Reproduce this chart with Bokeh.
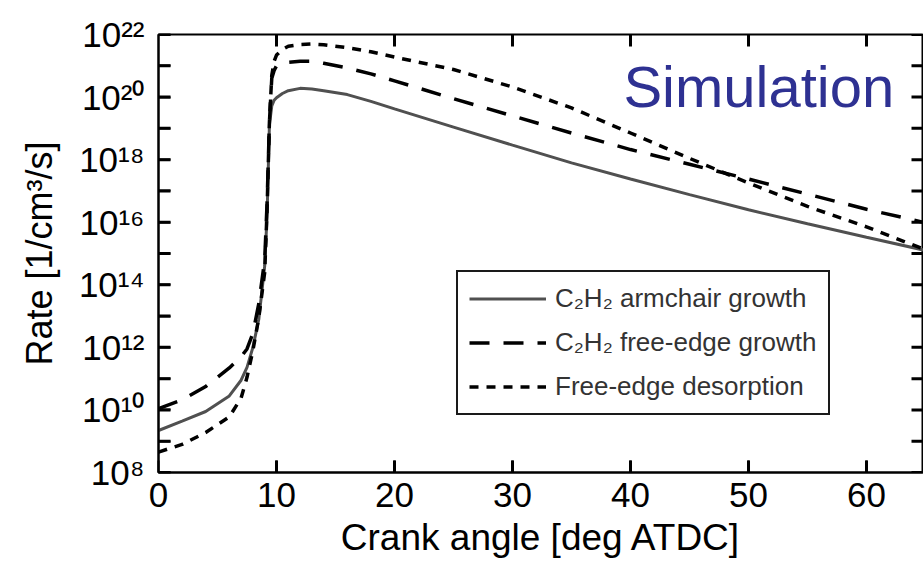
from bokeh.plotting import figure
from bokeh.models import (Range1d, FixedTicker, CustomJSTickFormatter,
                          Legend, LegendItem, Label)
from bokeh.embed import file_html
from bokeh.resources import INLINE

# ---------------- data ----------------
crank_angle = [0, 2, 4, 6, 7, 7.5, 8, 8.5, 9, 9.2, 9.4, 9.6, 9.8, 10, 10.5, 11, 12, 13, 14,
               16, 18, 20, 25, 30, 35, 40, 45, 50, 55, 60, 64.8]

armchair_growth = [2.2e9, 4.4e9, 8.9e9, 2.8e10, 8.9e10, 2.3e11, 1.0e12, 7.9e12, 4.0e14, 1.6e16,
                   1.3e19, 5.2e19, 7.9e19, 9.5e19, 1.3e20, 1.6e20, 1.9e20, 1.8e20, 1.6e20,
                   1.2e20, 7.3e19, 4.2e19, 1.1e19, 2.9e18, 7.9e17, 2.4e17, 7.6e16, 2.5e16,
                   8.9e15, 3.3e15, 1.3e15]

free_edge_growth = [1.1e10, 2.1e10, 5.6e10, 2.2e11, 5.0e11, 8.9e11, 2.8e12, 2.5e13, 6.3e14, 4.0e16,
                    1.6e19, 4.0e20, 7.1e20, 1.0e21, 1.2e21, 1.3e21, 1.4e21, 1.4e21, 1.2e21,
                    8.5e20, 5.5e20, 3.3e20, 8.9e19, 2.5e19, 7.1e18, 2.1e18, 7.1e17, 2.4e17,
                    7.9e16, 2.6e16, 1.0e16]

free_edge_desorption = [4.5e8, 7.9e8, 1.9e9, 6.0e9, 2.4e10, 1.1e11, 7.9e11, 8.9e12, 2.5e14, 2.5e16,
                        1.6e19, 5.0e20, 1.4e21, 2.2e21, 3.3e21, 4.2e21, 4.8e21, 5.0e21, 4.7e21,
                        3.8e21, 2.8e21, 1.9e21, 7.6e20, 2.1e20, 4.5e19, 7.1e18, 1.1e18, 1.8e17,
                        3.2e16, 7.1e15, 1.4e15]

series_labels = ["C\u2082H\u2082 armchair growth", "C\u2082H\u2082 free-edge growth", "Free-edge desorption"]

x_ticks = [0, 10, 20, 30, 40, 50, 60]
y_ticks = [1e8, 1e9, 1e10, 1e11, 1e12, 1e13, 1e14, 1e15, 1e16, 1e17, 1e18, 1e19, 1e20, 1e21, 1e22]
y_tick_labels = ["10\u2078", "", "10\u00b9\u2070", "", "10\u00b9\u00b2", "", "10\u00b9\u2074", "",
                 "10\u00b9\u2076", "", "10\u00b9\u2078", "", "10\u00b2\u2070", "", "10\u00b2\u00b2"]

FONT = "Liberation Sans"

# ---------------- figure ----------------
W, H = 923, 562
BL, BT, BB = 158, 34, 90
X0, X1 = 0, 64.83
Y0, Y1 = 1e8, 1e22

p = figure(width=W, height=H, x_range=Range1d(X0, X1), y_range=Range1d(Y0, Y1),
           y_axis_type="log", toolbar_location=None, output_backend="svg",
           min_border_left=BL, min_border_right=0, min_border_top=BT, min_border_bottom=BB)
p.grid.visible = False
p.outline_line_color = "black"
p.outline_line_width = 2
p.background_fill_color = "white"
p.border_fill_color = "white"

ylab_fmt = CustomJSTickFormatter(args=dict(tvals=y_ticks, tlabels=y_tick_labels), code="""
let best = -1, bd = 1e9;
for (let i = 0; i < tvals.length; i++) {
  const d = Math.abs(Math.log10(tick) - Math.log10(tvals[i]));
  if (d < bd) { bd = d; best = i; }
}
return bd < 0.01 ? tlabels[best] : "";
""")

def style_axis(ax):
    ax.major_tick_in = 12
    ax.major_tick_out = 0
    ax.minor_tick_in = 0
    ax.minor_tick_out = 0
    ax.major_tick_line_color = "black"
    ax.major_tick_line_width = 2
    ax.axis_line_color = "black"
    ax.axis_line_width = 2
    ax.major_label_text_font = FONT
    ax.major_label_text_color = "black"
    ax.axis_label_text_font = FONT
    ax.axis_label_text_font_style = "normal"
    ax.axis_label_text_color = "black"

yax = p.yaxis[0]
style_axis(yax)
yax.ticker = FixedTicker(ticks=y_ticks, minor_ticks=[])
yax.formatter = ylab_fmt
yax.major_label_text_font_size = "35px"
yax.major_label_standoff = 14
yax.axis_label = "Rate [1/cm\u00b3/s]"
yax.axis_label_text_font_size = "36px"
yax.axis_label_standoff = 16

xax = p.xaxis[0]
style_axis(xax)
xax.ticker = FixedTicker(ticks=x_ticks, minor_ticks=[])
xax.major_label_text_font_size = "35px"
xax.major_label_standoff = 10
xax.axis_label = "Crank angle [deg ATDC]"
xax.axis_label_text_font_size = "37px"
xax.axis_label_standoff = 7

# inward tick marks (12 px) on all four sides, placed through the plot scales
frame_w = W - BL
frame_h = H - BT - BB
tick_px = 12
dx = (X1 - X0) * tick_px / frame_w
dlog = 14.0 * tick_px / frame_h
x_tick_vals = [t for t in x_ticks if X0 < t < X1]
p.segment(x0=X0, x1=X0 + dx, y0=y_ticks, y1=y_ticks, line_color="#000000", line_width=3)
p.segment(x0=X1 - dx, x1=X1, y0=y_ticks, y1=y_ticks, line_color="#000000", line_width=3)
p.segment(x0=x_tick_vals, x1=x_tick_vals, y0=Y0, y1=Y0 * 10 ** dlog, line_color="#000000", line_width=3)
p.segment(x0=x_tick_vals, x1=x_tick_vals, y0=Y1 / 10 ** dlog, y1=Y1, line_color="#000000", line_width=3)

r_arm = p.line(crank_angle, armchair_growth, line_color="#505050", line_width=3)
r_fe = p.line(crank_angle, free_edge_growth, line_color="black", line_width=3.5, line_dash="20 14")
r_des = p.line(crank_angle, free_edge_desorption, line_color="black", line_width=3.5, line_dash="9 8")

legend = Legend(items=[LegendItem(label=series_labels[0], renderers=[r_arm]),
                       LegendItem(label=series_labels[1], renderers=[r_fe]),
                       LegendItem(label=series_labels[2], renderers=[r_des])],
                location=(298, 57))
legend.label_text_font = FONT
legend.label_text_font_size = "26px"
legend.label_text_color = "#333333"
legend.glyph_width = 77
legend.glyph_height = 25
legend.label_height = 25
legend.label_standoff = 9
legend.spacing = 13
legend.padding = 11
legend.margin = 0
legend.border_line_color = "#1a1a1a"
legend.border_line_alpha = 1
legend.border_line_width = 2
legend.background_fill_color = "white"
legend.background_fill_alpha = 1
p.add_layout(legend)

p.add_layout(Label(x=39.4, y=2.2e20, text="Simulation", text_font=FONT, text_font_size="58px",
                   text_color="#2e3192", text_baseline="alphabetic", text_align="left"))

open("out.html", "w").write(file_html(p, INLINE))
